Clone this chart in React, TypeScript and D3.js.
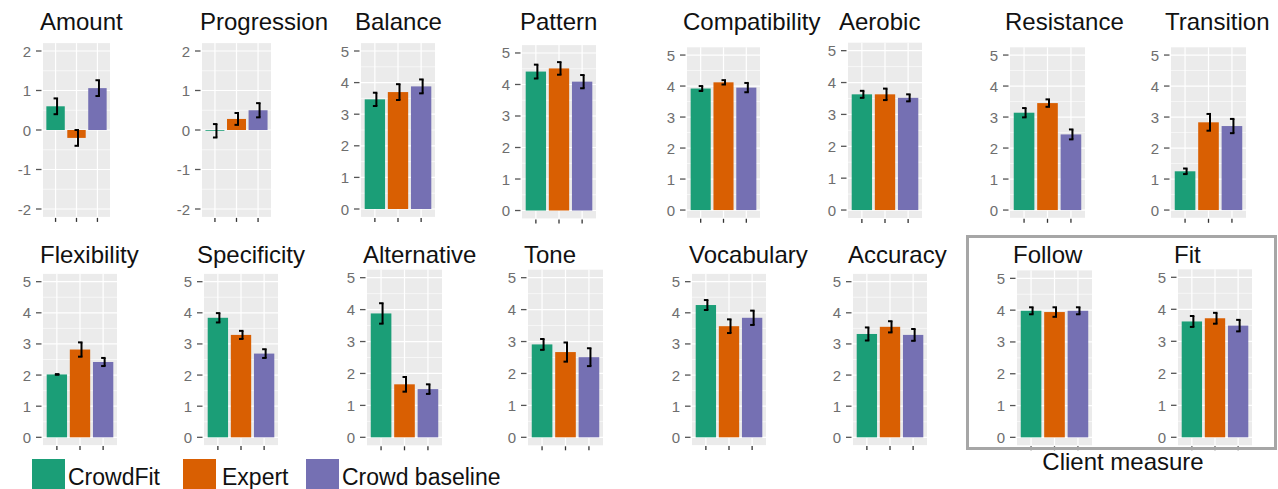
import React from "react";
import * as d3 from "d3";

const GROUPS = ["CrowdFit", "Expert", "Crowd baseline"];
const COLORS = ["#1B9E77", "#D95F02", "#7570B3"];

const MEASURES = [
  "Amount", "Progression", "Balance", "Pattern", "Compatibility", "Aerobic", "Resistance", "Transition",
  "Flexibility", "Specificity", "Alternative", "Tone", "Vocabulary", "Accuracy", "Follow", "Fit",
];

// means and half-width of error bars, one entry per measure
const crowdFitMean = [0.6, -0.02, 3.47, 4.41, 3.92, 3.63, 3.14, 1.25, 2.02, 3.84, 3.88, 2.91, 4.25, 3.32, 3.98, 3.62];
const crowdFitErr = [0.2, 0.17, 0.21, 0.22, 0.08, 0.11, 0.15, 0.09, 0.01, 0.15, 0.32, 0.17, 0.16, 0.21, 0.11, 0.17];
const expertMean = [-0.2, 0.28, 3.7, 4.51, 4.12, 3.63, 3.45, 2.83, 2.82, 3.29, 1.66, 2.67, 3.57, 3.55, 3.94, 3.72];
const expertErr = [0.2, 0.15, 0.25, 0.2, 0.07, 0.18, 0.12, 0.27, 0.23, 0.13, 0.23, 0.3, 0.22, 0.18, 0.15, 0.17];
const baselineMean = [1.06, 0.5, 3.88, 4.09, 3.95, 3.52, 2.44, 2.71, 2.42, 2.69, 1.51, 2.51, 3.84, 3.29, 3.98, 3.49];
const baselineErr = [0.2, 0.18, 0.22, 0.21, 0.15, 0.11, 0.16, 0.23, 0.13, 0.14, 0.15, 0.28, 0.23, 0.19, 0.11, 0.18];

const DIFF_TICKS = [-2, -1, 0, 1, 2];
const RATING_TICKS = [0, 1, 2, 3, 4, 5];

// panel boxes: left, right, top, bottom, title x
const LAYOUT = [
  [43, 110, 43.1, 216.9, 40],
  [202, 271, 43.1, 216.9, 200],
  [361, 435, 43.1, 216.9, 355],
  [522, 596, 45.1, 218.4, 520],
  [687, 760, 47.3, 217.8, 683],
  [848, 922, 42.7, 218, 839],
  [1010, 1085, 47.3, 217.8, 1005],
  [1171, 1246, 47.3, 217.8, 1165],
  [43, 117, 273.9, 445.1, 40],
  [204, 278, 273.9, 445.1, 197],
  [367, 442, 269.7, 445.3, 363],
  [528, 603, 269.7, 445.3, 524],
  [692, 766, 273.9, 445.1, 689],
  [853, 927, 273.9, 445.1, 848],
  [1017, 1092, 270.4, 445.3, 1013],
  [1178, 1252, 269.3, 445.3, 1174],
];

const FONT = "'Liberation Sans', Arial, sans-serif";

const Panel = ({ idx }: { idx: number }) => {
  const [left, right, top, bottom, titleX] = LAYOUT[idx];
  const isDiff = idx < 2;
  const ticks = isDiff ? DIFF_TICKS : RATING_TICKS;
  const lo = ticks[0];
  const hi = ticks[ticks.length - 1];
  const pad = (hi - lo) * 0.05;
  const y = d3.scaleLinear().domain([lo - pad, hi + pad]).range([bottom, top]);
  const x = d3.scaleBand().domain(GROUPS).range([left, right]).paddingInner(0.12).paddingOuter(0.16);
  const minors = ticks.slice(1).map((t, i) => (t + ticks[i]) / 2);
  const means = [crowdFitMean[idx], expertMean[idx], baselineMean[idx]];
  const errs = [crowdFitErr[idx], expertErr[idx], baselineErr[idx]];
  const titleY = idx < 8 ? 30 : 263;

  return (
    <g>
      <text x={titleX} y={titleY} fontSize={24} fontFamily={FONT} fill="#111">
        {MEASURES[idx]}
      </text>
      <rect x={left} y={top} width={right - left} height={bottom - top} fill="#EBEBEB" />
      {minors.map((t) => (
        <line key={"m" + t} x1={left} x2={right} y1={y(t)} y2={y(t)} stroke="#fff" strokeWidth={0.6} />
      ))}
      {ticks.map((t) => (
        <line key={"M" + t} x1={left} x2={right} y1={y(t)} y2={y(t)} stroke="#fff" strokeWidth={1.2} />
      ))}
      {GROUPS.map((g) => {
        const cx = x(g)! + x.bandwidth() / 2;
        return <line key={"v" + g} x1={cx} x2={cx} y1={top} y2={bottom} stroke="#fff" strokeWidth={1.2} />;
      })}
      {GROUPS.map((g, i) => {
        const v = means[i];
        return (
          <rect
            key={"b" + g}
            x={x(g)}
            width={x.bandwidth()}
            y={Math.min(y(v), y(0))}
            height={Math.abs(y(v) - y(0))}
            fill={COLORS[i]}
          />
        );
      })}
      {GROUPS.map((g, i) => {
        const cx = x(g)! + x.bandwidth() / 2;
        const y1 = y(means[i] + errs[i]);
        const y2 = y(means[i] - errs[i]);
        return (
          <g key={"e" + g} stroke="#000" strokeWidth={2} fill="none">
            <line x1={cx + 1.5} x2={cx + 1.5} y1={y1} y2={y2} />
            <line x1={cx - 2} x2={cx + 2.5} y1={y1} y2={y1} />
            <line x1={cx - 2} x2={cx + 2.5} y1={y2} y2={y2} />
          </g>
        );
      })}
      {ticks.map((t) => (
        <g key={"t" + t}>
          <line x1={left - 7} x2={left - 1.5} y1={y(t)} y2={y(t)} stroke="#555" strokeWidth={1.3} />
          <text
            x={left - 12}
            y={y(t)}
            textAnchor="end"
            dominantBaseline="central"
            fontSize={15}
            fontFamily={FONT}
            fill="#6e6e6e"
          >
            {t}
          </text>
        </g>
      ))}
      {GROUPS.map((g) => {
        const cx = x(g)! + x.bandwidth() / 2;
        return <line key={"xt" + g} x1={cx} x2={cx} y1={bottom + 1} y2={bottom + 5} stroke="#333" strokeWidth={1.3} />;
      })}
    </g>
  );
};

const LEGEND_POS = [
  [32, 68],
  [183, 222],
  [306, 342],
];

export default function App() {
  return (
    <svg
      width={1278}
      height={489}
      style={{ position: "absolute", left: 0, top: 0, background: "#fff" }}
    >
      {MEASURES.map((m, i) => (
        <Panel key={m} idx={i} />
      ))}
      <rect x={967.5} y={236.5} width={308} height={212} fill="none" stroke="#A6A6A6" strokeWidth={3} />
      <text x={1123} y={470} textAnchor="middle" fontSize={24} fontFamily={FONT} fill="#111">
        Client measure
      </text>
      {GROUPS.map((g, i) => (
        <g key={g}>
          <rect x={LEGEND_POS[i][0]} y={459} width={33} height={32} fill={COLORS[i]} />
          <text x={LEGEND_POS[i][1]} y={485} fontSize={23} fontFamily={FONT} fill="#111">
            {g}
          </text>
        </g>
      ))}
    </svg>
  );
}
